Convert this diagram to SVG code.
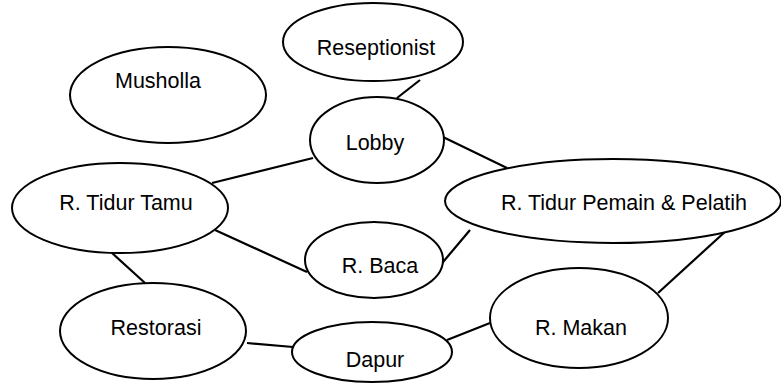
<svg xmlns="http://www.w3.org/2000/svg" width="781" height="383" viewBox="0 0 781 383">
<style>
ellipse{fill:#fff;stroke:#000;stroke-width:2}
line{stroke:#000;stroke-width:2.2}
text{font-family:"Liberation Sans",Arial,sans-serif;font-size:21.5px;text-anchor:middle;fill:#000}
</style>
<rect width="781" height="383" fill="#fff"/>
<g id="connectors">
<line x1="420" y1="80" x2="397" y2="98"/>
<line x1="313" y1="158" x2="212" y2="183"/>
<line x1="443" y1="137" x2="507" y2="168"/>
<line x1="215" y1="230" x2="307" y2="272"/>
<line x1="470" y1="230" x2="438" y2="268"/>
<line x1="727" y1="230" x2="658" y2="293"/>
<line x1="112" y1="253" x2="145" y2="283"/>
<line x1="247" y1="343" x2="293" y2="347"/>
<line x1="447" y1="340" x2="490" y2="323"/>
</g>
<g id="musholla"><ellipse cx="168" cy="95" rx="98" ry="48"/><text x="158" y="88">Musholla</text></g>
<g id="reseptionist"><ellipse cx="373" cy="42" rx="90" ry="39"/><text x="376" y="55">Reseptionist</text></g>
<g id="lobby"><ellipse cx="377" cy="140" rx="67" ry="43"/><text x="375" y="150">Lobby</text></g>
<g id="r-tidur-tamu"><ellipse cx="120" cy="208" rx="108" ry="45"/><text x="126" y="210">R. Tidur Tamu</text></g>
<g id="r-baca"><ellipse cx="374" cy="260" rx="69" ry="38"/><text x="380" y="273">R. Baca</text></g>
<g id="r-tidur-pemain"><ellipse cx="613" cy="201" rx="168" ry="42"/><text x="624" y="210">R. Tidur Pemain &amp; Pelatih</text></g>
<g id="restorasi"><ellipse cx="153" cy="331" rx="93" ry="48"/><text x="156" y="335">Restorasi</text></g>
<g id="dapur"><ellipse cx="372" cy="352" rx="80" ry="30"/><text x="375" y="367">Dapur</text></g>
<g id="r-makan"><ellipse cx="579" cy="318" rx="89" ry="50"/><text x="581" y="335">R. Makan</text></g>
</svg>
